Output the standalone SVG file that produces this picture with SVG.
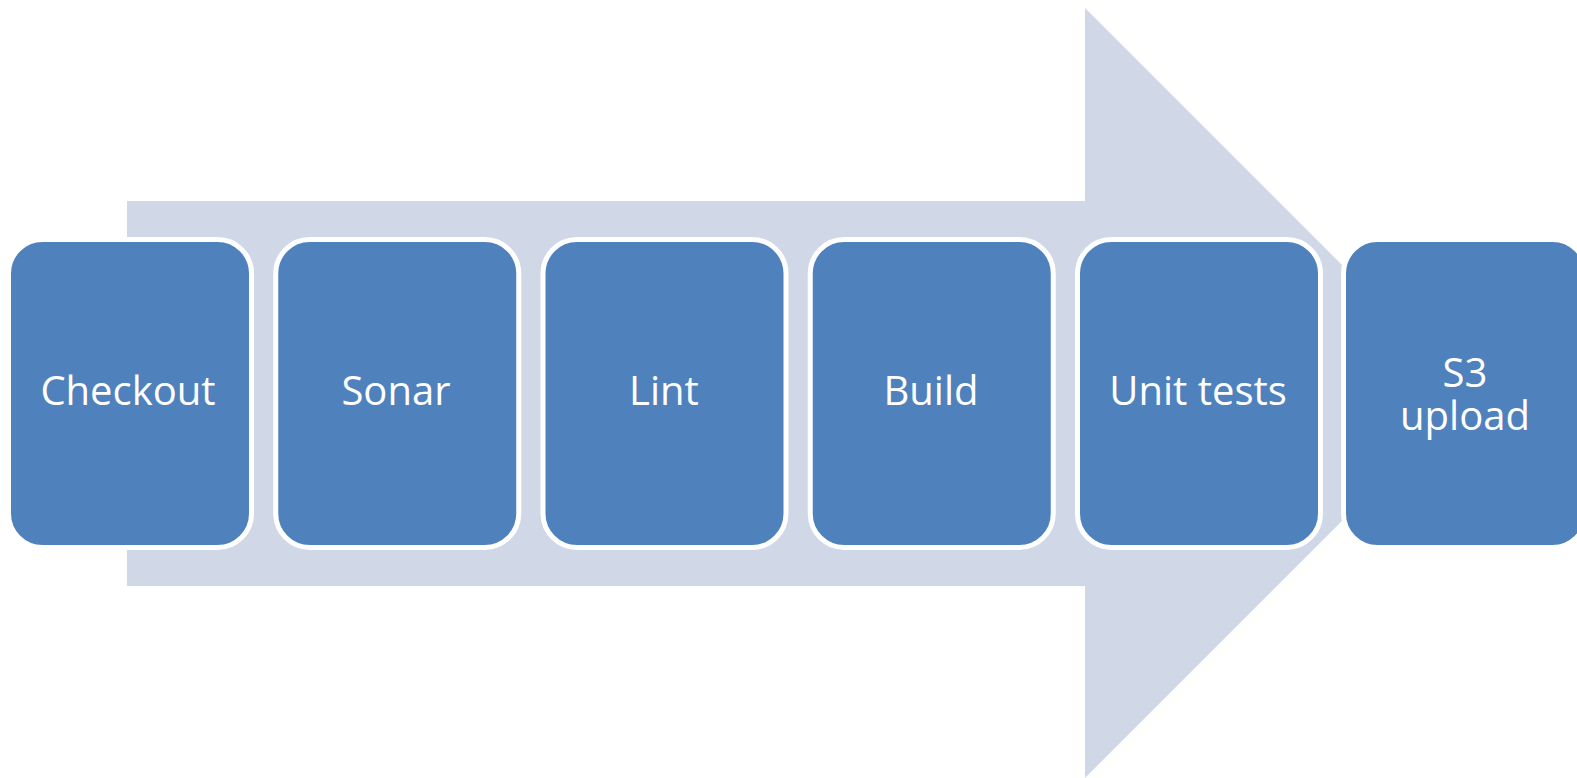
<svg xmlns="http://www.w3.org/2000/svg" width="1577" height="778" viewBox="0 0 1577 778">
<style>
.box{fill:#4F81BD;stroke:#FFFFFF;stroke-width:5}
.lbl{fill:#FFFFFF;font-family:"Open Sans","Liberation Sans",sans-serif;font-size:40px;text-anchor:middle}
</style>
<rect width="1577" height="778" fill="#FFFFFF"/>
<g id="arrow">
<polygon points="127,201 1085,201 1085,8 1470,393 1085,778 1085,586 127,586" fill="#D0D8E8"/>
</g>
<g id="connectors"></g>
<g id="n1"><rect class="box" x="8.5" y="239.5" width="243" height="308" rx="34"/><text class="lbl" x="128" y="405">Checkout</text></g>
<g id="n2"><rect class="box" x="275.75" y="239.5" width="243" height="308" rx="34"/><text class="lbl" x="396" y="405">Sonar</text></g>
<g id="n3"><rect class="box" x="543" y="239.5" width="243" height="308" rx="34"/><text class="lbl" x="664" y="405">Lint</text></g>
<g id="n4"><rect class="box" x="810.25" y="239.5" width="243" height="308" rx="34"/><text class="lbl" x="931" y="405">Build</text></g>
<g id="n5"><rect class="box" x="1077.5" y="239.5" width="243" height="308" rx="34"/><text class="lbl" x="1198" y="405">Unit tests</text></g>
<g id="n6"><rect class="box" x="1343.5" y="239.5" width="243" height="308" rx="34"/><text class="lbl" y="387"><tspan x="1465">S3</tspan><tspan x="1465" dy="43">upload</tspan></text></g>
</svg>
